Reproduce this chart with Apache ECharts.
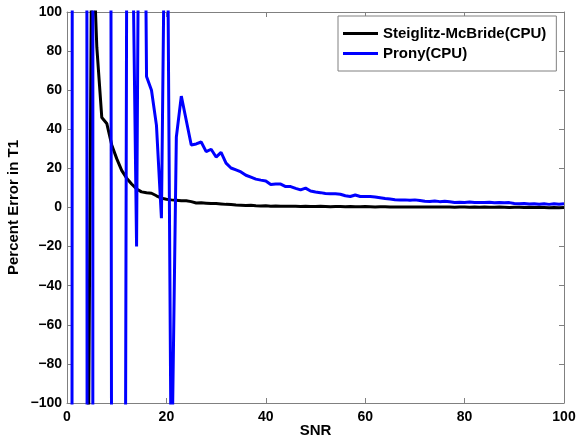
<!DOCTYPE html>
<html>
<head>
<meta charset="utf-8">
<script src="https://cdn.jsdelivr.net/npm/echarts@6/dist/echarts.min.js"></script>
<style>
html,body{margin:0;padding:0;background:#fff;}
#chart{width:578px;height:440px;}
</style>
</head>
<body>
<div id="chart"></div>
<script>
// SNR sample positions
var snr = [];
for (var i = 1; i <= 100; i++) snr.push(i);

var seriesNames = ['Steiglitz-McBride(CPU)', 'Prony(CPU)'];

// Steiglitz-McBride(CPU) percent error (off-scale values estimated)
var smValues = [
  -600, -500, -400, -250, 150, 82, 46, 43, 32, 25,
  19, 15, 12, 9.5, 8, 7.5, 7.3, 6, 4.8, 4.2,
  3.9, 3.7, 3.5, 3.4, 3.0, 2.3, 2.4, 2.2, 2.0, 2.0,
  1.8, 1.6, 1.5, 1.3, 1.2, 1.0, 1.1, 0.9, 0.8, 0.9,
  0.7, 0.8, 0.7, 0.6, 0.7, 0.6, 0.5, 0.6, 0.5, 0.5,
  0.6, 0.5, 0.4, 0.5, 0.5, 0.4, 0.5, 0.4, 0.4, 0.5,
  0.4, 0.3, 0.4, 0.4, 0.3, 0.3, 0.2, 0.3, 0.3, 0.2,
  0.3, 0.2, 0.3, 0.2, 0.2, 0.3, 0.2, 0.1, 0.2, 0.2,
  0.1, 0.2, 0.1, 0.2, 0.1, 0.1, 0.2, 0.1, 0.0, 0.1,
  0.1, 0.0, 0.1, 0.0, 0.1, 0.0, -0.1, 0.0, -0.1, 0.0
];

// Prony(CPU) percent error (off-scale values estimated)
var pronyValues = [
  -150, 5000, 3000, 110, -5000, 20000, 5000, 1800, -200, -500,
  -900, 110, 180, -20, 397, 67, 60, 42, -5.5, 235,
  -150, 36, 57, 44.5, 32, 32.5, 33.5, 28.6, 29.8, 25.8,
  28.2, 22.7, 20.2, 19.2, 18.2, 16.5, 15.5, 14.5, 14.0, 13.6,
  11.8, 12.0, 12.0, 10.7, 10.7, 9.8, 9.0, 9.9, 8.4, 7.9,
  7.6, 7.2, 7.0, 7.0, 6.8, 6.0, 5.6, 6.4, 5.6, 5.6,
  5.6, 5.4, 5.0, 4.6, 4.3, 4.0, 3.8, 3.9, 3.7, 3.9,
  3.6, 3.2, 3.1, 3.3, 3.0, 3.2, 2.9, 2.6, 2.7, 2.6,
  2.8, 2.5, 2.6, 2.5, 2.7, 2.4, 2.6, 2.4, 2.5, 2.1,
  1.9, 2.0, 1.8, 1.9, 1.7, 1.9, 1.6, 1.9, 1.7, 1.9
];

var xTicks = [0, 20, 40, 60, 80, 100];
var yTicks = [-100, -80, -60, -40, -20, 0, 20, 40, 60, 80, 100];

function pairs(xs, ys) {
  var out = [];
  for (var i = 0; i < xs.length; i++) out.push([xs[i], ys[i]]);
  return out;
}

var FONT = '"Liberation Sans", Arial, Helvetica, sans-serif';
var axisColor = '#808080';
var labelStyle = {color: '#000', fontFamily: FONT, fontWeight: 'bold', fontSize: 14};
var nameStyle = {color: '#000', fontFamily: FONT, fontWeight: 'bold', fontSize: 15};

function mkX(pos, showLabel) {
  return {
    type: 'value', position: pos, min: xTicks[0], max: xTicks[xTicks.length - 1],
    interval: xTicks[1] - xTicks[0],
    axisLine: {show: true, onZero: false, lineStyle: {color: axisColor, width: 1}},
    axisTick: {show: true, inside: true, length: 5, lineStyle: {color: axisColor}},
    splitLine: {show: false},
    axisLabel: Object.assign({show: showLabel, margin: 7}, labelStyle),
    name: showLabel ? 'SNR' : '', nameLocation: 'middle', nameGap: 20,
    nameMoveOverlap: false,
    nameTextStyle: nameStyle
  };
}
function mkY(pos, showLabel) {
  return {
    type: 'value', position: pos, min: yTicks[0], max: yTicks[yTicks.length - 1],
    interval: yTicks[1] - yTicks[0],
    axisLine: {show: true, onZero: false, lineStyle: {color: axisColor, width: 1}},
    axisTick: {show: true, inside: true, length: 5, lineStyle: {color: axisColor}},
    splitLine: {show: false},
    axisLabel: Object.assign({show: showLabel, margin: 5,
      formatter: function (v) { return String(v).replace('-', '\u2212'); }}, labelStyle),
    name: showLabel ? 'Percent Error in T1' : '', nameLocation: 'middle', nameGap: 46,
    nameMoveOverlap: false,
    nameTextStyle: nameStyle
  };
}

var chart = echarts.init(document.getElementById('chart'), null, {renderer: 'canvas'});
chart.setOption({
  animation: false,
  backgroundColor: '#fff',
  grid: {left: 67, right: 14, top: 12, bottom: 37, containLabel: false, outerBoundsMode: 'none'},
  xAxis: [mkX('bottom', true), mkX('top', false)],
  yAxis: [mkY('left', true), mkY('right', false)],
  legend: {
    orient: 'vertical', left: 338, top: 16,
    data: [
      {name: seriesNames[0], icon: 'rect'},
      {name: seriesNames[1], icon: 'rect'}
    ],
    itemWidth: 35, itemHeight: 3, itemGap: 5,
    padding: [10, 10, 10, 5],
    borderColor: axisColor, borderWidth: 1, backgroundColor: '#fff',
    textStyle: {color: '#000', fontFamily: FONT, fontWeight: 'bold', fontSize: 15, lineHeight: 15}
  },
  series: [
    {
      name: seriesNames[0], type: 'line', xAxisIndex: 0, yAxisIndex: 0,
      data: pairs(snr, smValues), showSymbol: false, symbol: 'none',
      clip: true, lineStyle: {color: '#000', width: 3}, itemStyle: {color: '#000'},
      z: 2
    },
    {
      name: seriesNames[1], type: 'line', xAxisIndex: 0, yAxisIndex: 0,
      data: pairs(snr, pronyValues), showSymbol: false, symbol: 'none',
      clip: true, lineStyle: {color: '#0000ff', width: 3}, itemStyle: {color: '#0000ff'},
      z: 3
    }
  ]
});
</script>
</body>
</html>
